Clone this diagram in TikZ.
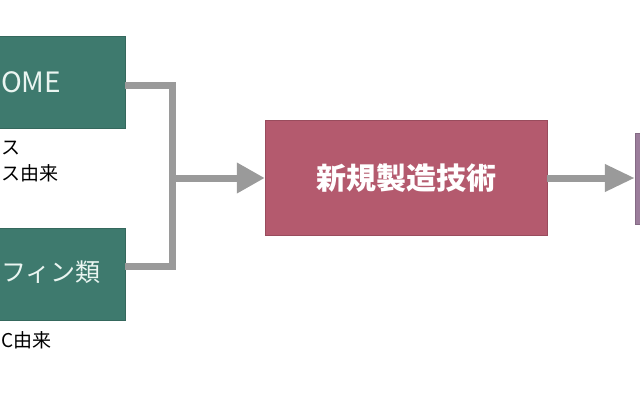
\documentclass[tikz,border=0pt]{standalone}
\usepackage{fontspec}
\newfontfamily\jpfont{Noto Sans CJK JP}
\usetikzlibrary{arrows.meta}
\definecolor{srcgreen}{HTML}{3E7A6E}
\definecolor{techrose}{HTML}{B45A6E}
\definecolor{prodplum}{HTML}{9B7D9B}
\definecolor{flowgray}{HTML}{9A9A9A}
\definecolor{boxink}{HTML}{EAF5F1}
\begin{document}
\begin{tikzpicture}[x=1pt,y=-1pt,
    srcbox/.style={fill=srcgreen, draw=srcgreen!85!black, minimum width=185pt, minimum height=92pt, inner sep=0pt},
    techbox/.style={fill=techrose, draw=techrose!85!black, minimum width=282pt, minimum height=115pt,
      text=white, font=\jpfont\bfseries\fontsize{30}{34}\selectfont},
    prodbox/.style={fill=prodplum, draw=prodplum!85!black, minimum width=100pt, minimum height=91pt},
    boxtext/.style={text=boxink, inner sep=0pt, font=\jpfont\fontsize{25}{28}\selectfont},
    note/.style={inner sep=0pt, align=left, font=\jpfont\fontsize{19}{26}\selectfont},
    flow/.style={draw=flowgray, line width=7pt}]
  \useasboundingbox (0,0) rectangle (640,400);
  \clip (0,0) rectangle (640,400);
  % boxes
  \node[srcbox] (dme) at (32.5,82) {};
  \node[srcbox] (olefin) at (32.5,274) {};
  \node[techbox] (tech) at (406,178) {新規製造技術};
  \node[prodbox] (prod) at (685,179) {};
  % texts at the cut edge
  \node[boxtext, anchor=west, font=\jpfont\fontsize{28}{30}\selectfont] (dmetext) at (1,82) {OME};
  \node[boxtext, anchor=west] (olefintext) at (1,272) {フィン類};
  \node[note, anchor=west] (dmenote) at (1,162) {ス\\ス由来};
  \node[note, anchor=west] (olefinnote) at (1,340) {C由来};
  % connectors
  \coordinate (join) at (172.5,178);
  \draw[flow] ([yshift=-3.5pt]dme.east) -| (join) |- ([yshift=8pt]olefin.east);
  \draw[flow, -{Triangle[length=28pt,width=29pt]}] (join) -- (tech.west);
  \draw[flow, -{Triangle[length=30pt,width=26pt]}] (tech.east) -- (tech.east -| prod.west);
\end{tikzpicture}
\end{document}
